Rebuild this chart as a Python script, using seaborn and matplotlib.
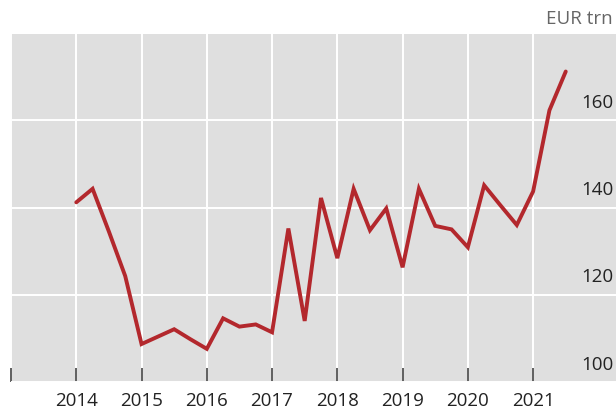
import matplotlib
matplotlib.use("Agg")
import matplotlib.pyplot as plt
import seaborn as sns
import pandas as pd
import numpy as np

# Quarterly observations (decimal year) and values in EUR trillion
quarters = [2014.00, 2014.25, 2014.50, 2014.75,
            2015.00, 2015.25, 2015.50, 2015.75,
            2016.00, 2016.25, 2016.50, 2016.75,
            2017.00, 2017.25, 2017.50, 2017.75,
            2018.00, 2018.25, 2018.50, 2018.75,
            2019.00, 2019.25, 2019.50, 2019.75,
            2020.00, 2020.25, 2020.50, 2020.75,
            2021.00, 2021.25, 2021.50]
values = [141.2, 144.3, 134.5, 124.3,
          108.7, 110.4, 112.1, 109.8,
          107.6, 114.6, 112.7, 113.2,
          111.4, 135.2, 114.0, 142.2,
          128.4, 144.3, 134.8, 139.8,
          126.3, 144.3, 135.8, 135.0,
          130.9, 145.1, 140.5, 136.0,
          143.7, 162.3, 171.2]

year_ticks = [2013, 2014, 2015, 2016, 2017, 2018, 2019, 2020, 2021]
year_labels = ["", "2014", "2015", "2016", "2017", "2018", "2019", "2020", "2021"]
value_ticks = [100, 120, 140, 160]
unit_label = "EUR trn"

df = pd.DataFrame({"t": quarters, "v": values})

sns.set_theme(style="white")
plt.rcParams["font.family"] = ["Open Sans", "DejaVu Sans"]

fig = plt.figure(figsize=(6.16, 4.09), dpi=100)
ax = fig.add_axes([11 / 616, 1 - 382 / 409, 1 - 11 / 616, (382 - 34) / 409])
ax.set_facecolor("#dfdfdf")

sns.lineplot(data=df, x="t", y="v", ax=ax, color="#b3282d", linewidth=2.8,
             solid_joinstyle="miter", zorder=3)

ax.set_xlim(2013.0, 2022.27)
ax.set_ylim(100.7, 179.8)

# white grid at each year and at 20-unit steps
ax.set_xticks(year_ticks)
ax.set_xticklabels(year_labels)
ax.set_yticks(value_ticks)
ax.grid(True, color="white", linewidth=1.4, zorder=1)
ax.set_axisbelow(True)

ax.tick_params(axis="x", direction="in", length=10, width=1.2, color="#444444",
               pad=7, labelsize=13.5, labelcolor="#222222", bottom=True)
ax.tick_params(axis="y", left=False, right=False, labelleft=False, labelright=False)

for s in ax.spines.values():
    s.set_visible(False)

# value labels sit on the right, just above their grid line
for v in value_ticks:
    ax.annotate(str(v), xy=(1.0, v), xycoords=("axes fraction", "data"),
                xytext=(-2, 6), textcoords="offset points",
                ha="right", va="bottom", fontsize=13.5, color="#222222",
                annotation_clip=False)

fig.text(613 / 616, 1 - 10 / 409, unit_label, ha="right", va="top",
         fontsize=13.5, color="#666666")

ax.set_xlabel("")
ax.set_ylabel("")

fig.savefig("out.png", dpi=100)
